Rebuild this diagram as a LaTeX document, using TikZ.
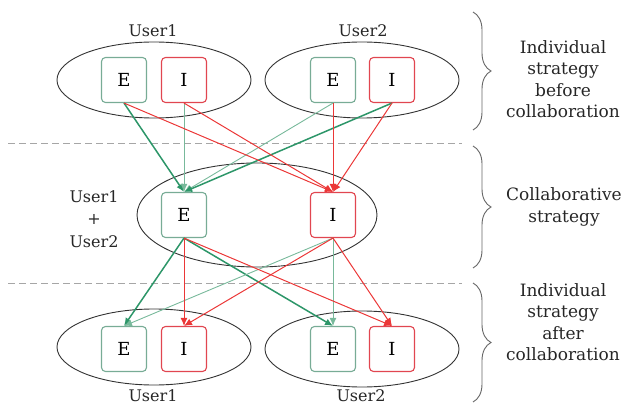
\documentclass[tikz,border=0pt]{standalone}
\usepackage{fontspec}
\setmainfont{DejaVu Serif}
\usepackage{tikz}
\usetikzlibrary{arrows.meta}
\usetikzlibrary{shapes.geometric,decorations.pathreplacing}

\definecolor{ecol}{RGB}{120,172,150}
\definecolor{icol}{RGB}{225,70,80}
\definecolor{gstrong}{RGB}{45,150,105}
\definecolor{gweak}{RGB}{120,185,155}
\definecolor{rarrow}{RGB}{235,55,55}

\begin{document}
\begin{tikzpicture}[x=1pt, y=-1pt, >={Latex[length=8pt, width=7pt]},
    user/.style={draw=black!80, ellipse, line width=0.9pt,
      minimum width=194pt, minimum height=76pt},
    ebox/.style={draw=ecol, line width=1.1pt, rounded corners=4pt, fill=white,
      minimum size=45pt, inner sep=0pt, font=\fontsize{18}{18}\selectfont},
    ibox/.style={ebox, draw=icol},
    strong/.style={->, gstrong, line width=1.5pt},
    weak/.style={->, gweak, line width=0.9pt},
    redarr/.style={->, rarrow, line width=1pt},
    who/.style={font=\fontsize{16}{22.5}\selectfont, text=black!85,
      align=center, inner sep=0pt},
    phase/.style={font=\fontsize{17}{21.5}\selectfont, text=black!85,
      align=center, inner sep=0pt},
    sep/.style={gray!70, dash pattern=on 7pt off 4pt, line width=0.8pt},
    curly/.style={decorate, decoration={brace, amplitude=18pt},
      gray!80!black, line width=0.9pt}]
  \useasboundingbox (0,0) rectangle (623,406);

  % phases
  \draw[sep] (8,143) -- (462,143);
  \draw[sep] (8,283) -- (462,283);

  % users before
  \node[user] (top1) at (154,80) {};
  \node[user] (top2) at (362,80) {};
  \node[who, anchor=base] (top1lab) at (153,37) {User1};
  \node[who, anchor=base] (top2lab) at (363,37) {User2};
  \node[ebox] (t1e) at (124,80) {E};
  \node[ibox] (t1i) at (184,80) {I};
  \node[ebox] (t2e) at (333,80) {E};
  \node[ibox] (t2i) at (392,80) {I};

  % collaboration
  \node[user, minimum width=240pt, minimum height=104pt] (mid) at (257,215) {};
  \node[who] (midlab) at (94,219) {User1\\+\\User2};
  \node[ebox] (me) at (184,215) {E};
  \node[ibox] (mi) at (333,215) {I};

  % users after
  \node[user] (bot1) at (154,347) {};
  \node[user] (bot2) at (362,349) {};
  \node[who, anchor=base] (bot1lab) at (153,401) {User1};
  \node[who, anchor=base] (bot2lab) at (361,401) {User2};
  \node[ebox] (b1e) at (124,349) {E};
  \node[ibox] (b1i) at (184,349) {I};
  \node[ebox] (b2e) at (333,349) {E};
  \node[ibox] (b2i) at (392,349) {I};

  % before -> collaboration
  \draw[strong] (t1e.south) -- (me.north);
  \draw[weak] (t1i.south) -- (me.north);
  \draw[weak] (t2e.south) -- (me.north);
  \draw[strong] (t2i.south) -- (me.north);
  \foreach \src in {t1e,t1i,t2e,t2i}
    \draw[redarr] (\src.south) -- (mi.north);

  % collaboration -> after
  \draw[strong] (me.south) -- (b1e.north);
  \draw[strong] (me.south) -- (b2e.north);
  \draw[weak] (mi.south) -- (b1e.north);
  \draw[weak] (mi.south) -- (b2e.north);
  \foreach \src in {me,mi}
    \foreach \dst in {b1i,b2i}
      \draw[redarr] (\src.south) -- (\dst.north);

  % braces
  \draw[curly] (473,12) -- (473,130);
  \draw[curly] (473,146) -- (473,268);
  \draw[curly] (473,283) -- (473,402);
  \node[phase] (before) at (563,79) {Individual\\strategy\\before\\collaboration};
  \node[phase] (collab) at (564,207) {Collaborative\\strategy};
  \node[phase] (after) at (563,322) {Individual\\strategy\\after\\collaboration};
\end{tikzpicture}
\end{document}
